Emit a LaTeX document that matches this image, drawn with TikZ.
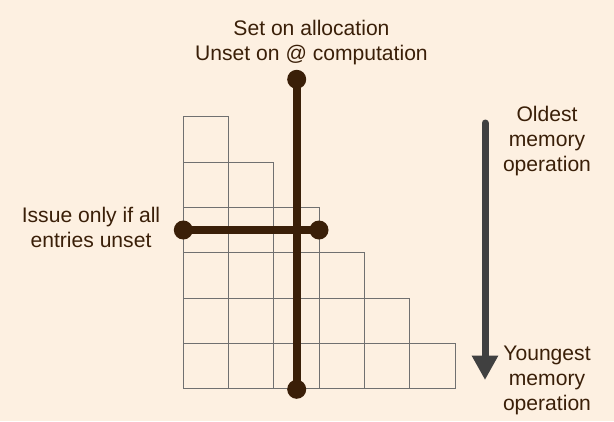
\documentclass[tikz,border=0pt]{standalone}
\usepackage{fontspec}
\setmainfont{Liberation Sans}
\usetikzlibrary{arrows.meta}
\definecolor{bgc}{HTML}{FDF0E1}
\definecolor{barc}{HTML}{3A1F08}
\definecolor{gridc}{HTML}{707070}
\definecolor{arrc}{HTML}{404040}
\begin{document}
\begin{tikzpicture}[x=1pt,y=-1pt,
  cell/.style={draw=gridc,line width=1pt},
  dot/.style={circle,fill=barc,inner sep=0pt,minimum size=19pt},
  barline/.style={draw=barc,line width=7.7pt},
  label/.style={text=barc,align=center,font=\fontsize{21.1}{25}\selectfont,inner sep=0pt},
  timearrow/.style={draw=arrc,fill=arrc,line width=7pt,line cap=round,-{Triangle[width=25pt,length=24.5pt]}}]
\fill[bgc] (0,0) rectangle (614,421);
\useasboundingbox (0,0) rectangle (614,421);
% staircase grid
\foreach \r in {1,...,6}{
  \foreach \c in {1,...,\r}{
    \draw[cell] ({183.3+(\c-1)*45.33},{116.7+(\r-1)*45.33}) rectangle +(45.33,45.33);
  }
}
% bars with end dots
\node[dot] (top) at (296.7,79.3) {};
\node[dot] (bot) at (296.7,389.3) {};
\node[dot] (lft) at (183.3,230) {};
\node[dot] (rgt) at (319,230) {};
\draw[barline] (top.center) -- (bot.center);
\draw[barline] (lft.center) -- (rgt.center);
% labels
\node[label] (setl) at (311.5,43) {Set on allocation\\Unset on @ computation};
\node[label] (issuel) at (91,227) {Issue only if all\\entries unset};
\node[label] (oldl) at (547,141.5) {Oldest\\memory\\operation};
\node[label] (youngl) at (547,380) {Youngest\\memory\\operation};
% time arrow
\coordinate (astart) at (485,123);
\coordinate (aend) at (485,380);
\draw[timearrow] (astart) -- (aend);
\end{tikzpicture}
\end{document}
